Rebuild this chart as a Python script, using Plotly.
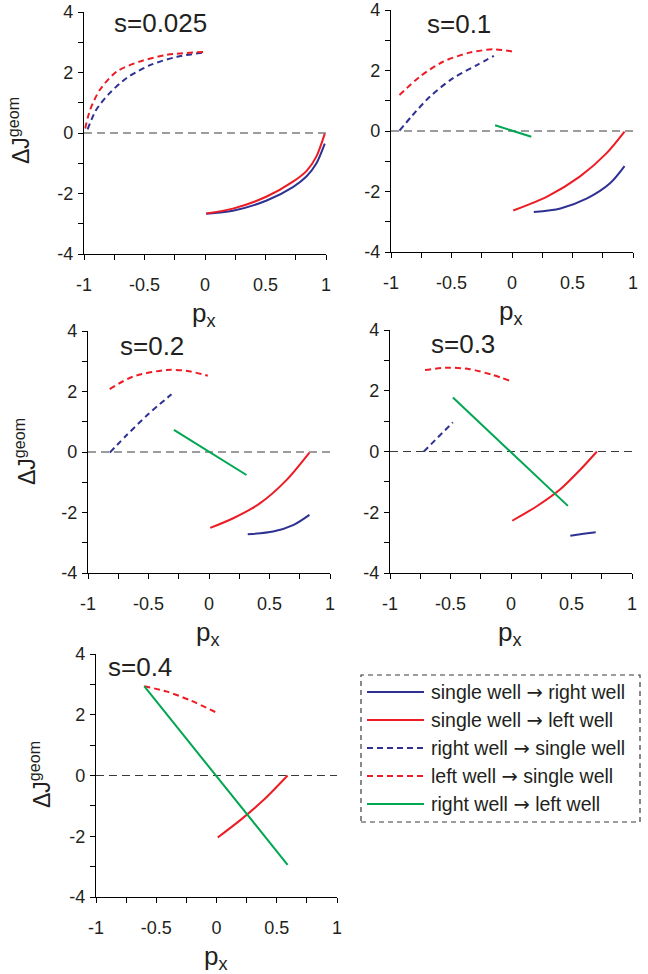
import plotly.graph_objects as go

W, H = 648, 974

# ---------------- data ----------------
panel_titles = ["s=0.025", "s=0.1", "s=0.2", "s=0.3", "s=0.4"]

# single well -> right well (blue solid)
sr_x = [[0.01, 0.23, 0.51, 0.73, 0.84, 0.92, 0.99],
        [0.18, 0.40, 0.62, 0.81, 0.93],
        [0.32, 0.53, 0.70, 0.83],
        [0.49, 0.60, 0.70],
        []]
sr_y = [[-2.67, -2.57, -2.23, -1.78, -1.43, -1.01, -0.35],
        [-2.68, -2.56, -2.23, -1.73, -1.16],
        [-2.72, -2.63, -2.41, -2.08],
        [-2.77, -2.71, -2.66],
        []]
# single well -> left well (red solid)
sl_x = [[0.01, 0.23, 0.51, 0.73, 0.84, 0.92, 0.99],
        [0.01, 0.29, 0.56, 0.78, 0.93],
        [0.01, 0.20, 0.42, 0.64, 0.83],
        [0.01, 0.21, 0.40, 0.57, 0.71],
        [0.01, 0.20, 0.39, 0.59]]
sl_y = [[-2.66, -2.50, -2.10, -1.60, -1.25, -0.78, -0.02],
        [-2.63, -2.17, -1.51, -0.74, -0.02],
        [-2.51, -2.19, -1.70, -0.93, -0.02],
        [-2.28, -1.81, -1.27, -0.61, 0.0],
        [-2.04, -1.46, -0.81, 0.0]]
# right well -> single well (blue dashed)
rs_x = [[-0.97, -0.90, -0.79, -0.65, -0.45, -0.23, -0.01],
        [-0.93, -0.82, -0.68, -0.49, -0.29, -0.15],
        [-0.82, -0.68, -0.51, -0.31],
        [-0.72, -0.48],
        []]
rs_y = [[0.12, 0.76, 1.31, 1.81, 2.25, 2.52, 2.66],
        [0.01, 0.53, 1.13, 1.74, 2.18, 2.48],
        [-0.02, 0.56, 1.22, 1.91],
        [0.0, 0.96],
        []]
# left well -> single well (red dashed)
ls_x = [[-0.99, -0.95, -0.87, -0.73, -0.54, -0.32, -0.01],
        [-0.93, -0.76, -0.57, -0.35, -0.15, 0.01],
        [-0.82, -0.63, -0.35, -0.18, -0.01],
        [-0.71, -0.53, -0.34, -0.15, -0.01],
        [-0.60, -0.41, -0.22, 0.0]]
ls_y = [[0.15, 0.76, 1.42, 2.03, 2.36, 2.58, 2.68],
        [1.19, 1.80, 2.29, 2.59, 2.70, 2.62],
        [2.08, 2.49, 2.71, 2.68, 2.52],
        [2.68, 2.76, 2.71, 2.52, 2.33],
        [2.94, 2.76, 2.48, 2.07]]
# right well -> left well (green solid)
rl_x = [[], [-0.14, 0.16], [-0.29, 0.31], [-0.48, 0.47], [-0.60, 0.59]]
rl_y = [[], [0.19, -0.19], [0.73, -0.76], [1.78, -1.79], [2.94, -2.94]]

zero_x = [-1, 1]
zero_y = [0, 0]

x_tickvals = [-1, -0.5, 0, 0.5, 1]
x_ticktext = ["-1", "-0.5", "0", "0.5", "1"]
y_tickvals = [-4, -2, 0, 2, 4]
y_ticktext = ["-4", "-2", "0", "2", "4"]

ARROW = '<span style="font-family:DejaVu Sans">\u2192</span>'
legend_labels = ["single well " + ARROW + " right well",
                 "single well " + ARROW + " left well",
                 "right well " + ARROW + " single well",
                 "left well " + ARROW + " single well",
                 "right well " + ARROW + " left well"]

# ---------------- styles ----------------
BLUE = "#2e3192"
RED = "#ed1c24"
GREEN = "#00a651"
TXT = "#231f20"
FONT = "Liberation Sans, Arial, sans-serif"

series_styles = [
    (sr_x, sr_y, BLUE, "solid"),
    (sl_x, sl_y, RED, "solid"),
    (rs_x, rs_y, BLUE, "6px,4px"),
    (ls_x, ls_y, RED, "6px,4px"),
    (rl_x, rl_y, GREEN, "solid"),
]
legend_styles = [(BLUE, "solid"), (RED, "solid"), (BLUE, "6px,4px"),
                 (RED, "6px,4px"), (GREEN, "solid")]

# plot areas in pixels: (left, right, top, bottom)
boxes = [(84, 326, 12, 254), (391, 633, 10, 252), (88, 330, 331, 573),
         (390, 632, 330, 573), (96, 337, 654, 897)]
title_pos = [(112, 23), (425, 24), (118, 346), (429, 344), (106, 667)]
ytitle_pos = [(19, 131), (25, 452), None, None, (40, 775)]


def px(x):
    return x / W


def py(y):
    return 1 - y / H


fig = go.Figure()
annotations = []
shapes = []

for i in range(5):
    xa = "x" if i == 0 else f"x{i+1}"
    ya = "y" if i == 0 else f"y{i+1}"
    # zero line
    fig.add_trace(go.Scatter(x=zero_x, y=zero_y, mode="lines", xaxis=xa, yaxis=ya,
                             line=dict(color="#3a3a3a", width=1.2, dash="8px,5px"),
                             showlegend=False, hoverinfo="skip"))
    for xs, ys, col, dash in series_styles:
        if len(xs[i]) == 0:
            continue
        fig.add_trace(go.Scatter(x=xs[i], y=ys[i], mode="lines", xaxis=xa, yaxis=ya,
                                 line=dict(color=col, width=2, dash=dash,
                                           shape="spline", smoothing=0.8),
                                 showlegend=False))
    l, r, t, b = boxes[i]
    axkey = "xaxis" if i == 0 else f"xaxis{i+1}"
    aykey = "yaxis" if i == 0 else f"yaxis{i+1}"
    common = dict(showline=True, linecolor="black", linewidth=1.3, mirror=False,
                  ticks="outside", ticklen=5, tickwidth=1.2, tickcolor="black",
                  showgrid=False, zeroline=False, automargin=False,
                  tickfont=dict(family=FONT, size=18, color=TXT))
    fig.update_layout(**{
        axkey: dict(domain=[px(l), px(r)], range=[-1, 1], anchor=ya,
                    tickmode="array", tickvals=x_tickvals, ticktext=x_ticktext,
                    ticklabelstandoff=9,
                    minor=dict(ticks="outside", tick0=-1, dtick=0.25, ticklen=5,
                               tickwidth=1.2, tickcolor="black", showgrid=False),
                    **common),
        aykey: dict(domain=[py(b), py(t)], range=[-4, 4], anchor=xa,
                    tickmode="array", tickvals=y_tickvals, ticktext=y_ticktext,
                    ticklabelstandoff=1,
                    minor=dict(ticks="outside", tick0=-4, dtick=1, ticklen=5,
                               tickwidth=1.2, tickcolor="black", showgrid=False),
                    **common),
    })
    # panel title
    tx, ty = title_pos[i]
    annotations.append(dict(x=px(tx), y=py(ty), xref="paper", yref="paper",
                            text=panel_titles[i], showarrow=False, xanchor="left",
                            yanchor="middle", font=dict(family=FONT, size=26, color=TXT)))
    # x title
    annotations.append(dict(x=px((l + r) / 2 - 1), y=py(b + 60), xref="paper", yref="paper",
                            text="p<sub>x</sub>", showarrow=False, xanchor="center",
                            yanchor="middle", font=dict(family=FONT, size=26, color=TXT)))
    if ytitle_pos[i] is not None:
        yx, yy = ytitle_pos[i]
        annotations.append(dict(x=px(yx), y=py(yy), xref="paper", yref="paper",
                                text="\u0394J<sup>geom</sup>", showarrow=False,
                                textangle=-90, xanchor="center", yanchor="middle",
                                font=dict(family=FONT, size=23, color=TXT)))

# legend box drawn manually
shapes.append(dict(type="rect", xref="paper", yref="paper",
                   x0=px(361), x1=px(640), y0=py(822), y1=py(675),
                   line=dict(color="#3a3a3a", width=1.2, dash="5px,4px")))
row_y = [692, 720, 748, 776, 804]
for k, lab in enumerate(legend_labels):
    col, dash = legend_styles[k]
    shapes.append(dict(type="line", xref="paper", yref="paper",
                       x0=px(367), x1=px(424), y0=py(row_y[k]), y1=py(row_y[k]),
                       line=dict(color=col, width=2, dash=dash)))
    annotations.append(dict(x=px(429), y=py(row_y[k]), xref="paper", yref="paper",
                            text=lab, showarrow=False, xanchor="left", yanchor="middle",
                            font=dict(family=FONT, size=19.5, color=TXT)))

fig.update_layout(width=W, height=H, margin=dict(l=0, r=0, t=0, b=0, autoexpand=False),
                  paper_bgcolor="white", plot_bgcolor="white",
                  annotations=annotations, shapes=shapes, showlegend=False)

fig.write_html("out.html", config={"displayModeBar": False},
               post_script="document.body.style.margin='0';document.body.style.overflow='hidden';")
